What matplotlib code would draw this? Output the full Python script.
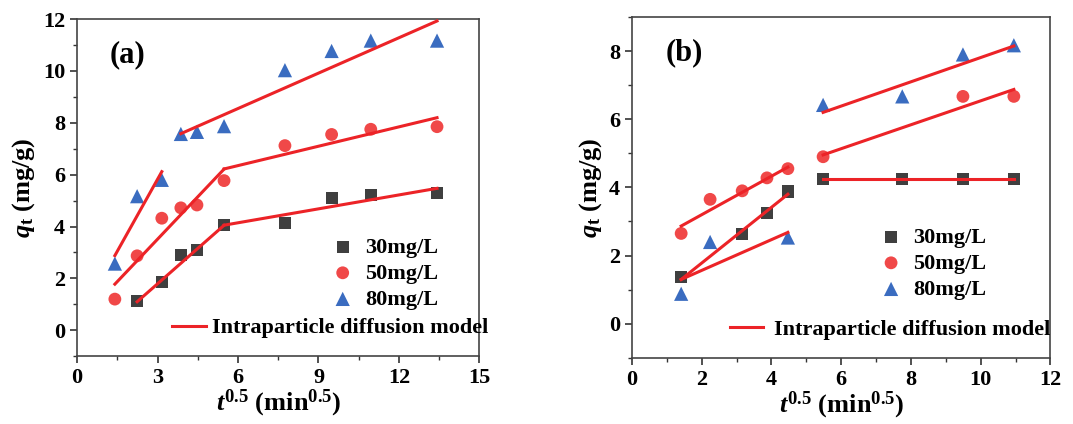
import matplotlib
matplotlib.use("Agg")
import matplotlib.pyplot as plt
import numpy as np
from matplotlib.lines import Line2D
from matplotlib.ticker import MultipleLocator

plt.rcParams['font.family'] = ['Liberation Serif', 'DejaVu Serif']
plt.rcParams['font.weight'] = 'bold'
plt.rcParams['mathtext.fontset'] = 'custom'
plt.rcParams['mathtext.rm'] = 'Liberation Serif:bold'
plt.rcParams['mathtext.it'] = 'Liberation Serif:italic:bold'
plt.rcParams['mathtext.bf'] = 'Liberation Serif:bold'

# ---- panel (a) data: t^0.5 vs q_t ----
xa = [1.41, 2.24, 3.16, 3.87, 4.47, 5.48, 7.75, 9.49, 10.95, 13.42]
a30_x = [2.24, 3.16, 3.87, 4.47, 5.48, 7.75, 9.49, 10.95, 13.42]
a30_y = [1.13, 1.87, 2.90, 3.10, 4.05, 4.15, 5.10, 5.20, 5.30]
a50_y = [1.20, 2.87, 4.32, 4.72, 4.83, 5.77, 7.12, 7.55, 7.75, 7.85]
a80_y = [2.57, 5.17, 5.80, 7.57, 7.65, 7.87, 10.03, 10.77, 11.17, 11.17]

# fitted segments (x start, x end, slope, intercept)
a30_fit = [(2.24, 5.48, 0.910, -0.94), (5.48, 13.42, 0.179, 3.07)]
a50_fit = [(1.41, 5.48, 1.090, 0.24), (5.48, 13.42, 0.249, 4.855)]
a80_fit = [(1.41, 3.16, 1.850, 0.27), (3.87, 13.42, 0.455, 5.82)]

# ---- panel (b) data ----
b30_x = [1.41, 3.16, 3.87, 4.47, 5.48, 7.75, 9.49, 10.95]
b30_y = [1.37, 2.63, 3.25, 3.88, 4.25, 4.25, 4.25, 4.25]
b50_x = [1.41, 2.24, 3.16, 3.87, 4.47, 5.48, 9.49, 10.95]
b50_y = [2.65, 3.65, 3.90, 4.28, 4.55, 4.90, 6.67, 6.67]
b80_x = [1.41, 2.24, 4.47, 5.48, 7.75, 9.49, 10.95]
b80_y = [0.88, 2.40, 2.53, 6.42, 6.67, 7.90, 8.17]

b30_fit = [(1.41, 4.47, 0.817, 0.148), (5.48, 10.95, 0.0, 4.25)]
b50_fit = [(1.41, 4.47, 0.565, 2.07), (5.48, 10.95, 0.351, 3.03)]
b80_fit = [(1.41, 4.47, 0.451, 0.664), (5.48, 10.95, 0.356, 4.25)]

c_sq = '#3f3f3f'
c_ci = '#f04848'
c_tr = '#3a6cc0'
c_fit = '#ec2327'


def draw_panel(ax, series, fits, label, xlim, ylim, xmaj, ymaj,
               leg_xy, line_x, line_pad):
    handles = []
    for (x, y, m, c, name, sz) in series:
        h = ax.scatter(x, y, marker=m, s=sz, color=c, edgecolors='none',
                       zorder=3, label=name)
        handles.append(h)
    for segs in fits:
        for x0, x1, k, b in segs:
            xs = np.array([x0, x1])
            ax.plot(xs, k * xs + b, color=c_fit, lw=2.2, zorder=4)

    ax.set_xlim(*xlim)
    ax.set_ylim(*ylim)
    ax.xaxis.set_major_locator(MultipleLocator(xmaj))
    ax.xaxis.set_minor_locator(MultipleLocator(xmaj / 2))
    ax.yaxis.set_major_locator(MultipleLocator(ymaj))
    ax.yaxis.set_minor_locator(MultipleLocator(ymaj / 2))
    ax.tick_params(which='major', direction='out', length=5, width=1.2,
                   labelsize=16, colors='#333333')
    ax.tick_params(which='minor', direction='out', length=3, width=1.0,
                   colors='#333333')
    for lab in ax.get_xticklabels() + ax.get_yticklabels():
        lab.set_fontweight('bold')
        lab.set_color('black')
    for sp in ax.spines.values():
        sp.set_linewidth(1.2)
        sp.set_color('#444444')

    ax.set_xlabel(r'$t^{0.5}$ (min$^{0.5}$)', fontsize=19, labelpad=0,
                  fontweight='bold')
    ax.set_ylabel(r'$q_{\rm t}$ (mg/g)', fontsize=19, labelpad=4,
                  fontweight='bold')
    ax.text(0.08, 0.895, label, transform=ax.transAxes, fontsize=22,
            fontweight='bold', va='center', ha='left')

    leg1 = ax.legend(handles=handles, loc='upper left',
                     bbox_to_anchor=leg_xy, frameon=False,
                     prop={'size': 16, 'weight': 'bold'}, handletextpad=0.4,
                     labelspacing=0.25, borderaxespad=0, handlelength=1.2)
    ax.add_artist(leg1)
    line_h = Line2D([], [], color=c_fit, lw=2.2)
    ax.legend(handles=[line_h], labels=['Intraparticle diffusion model'],
              loc='upper left', bbox_to_anchor=(line_x, 0.14), frameon=False,
              prop={'size': 16, 'weight': 'bold'}, handlelength=1.5,
              handletextpad=line_pad, borderaxespad=0)


fig = plt.figure(figsize=(10.73, 4.24), dpi=100)
ax1 = fig.add_axes([0.0718, 0.160, 0.375, 0.795])
ax2 = fig.add_axes([0.589, 0.156, 0.390, 0.804])

draw_panel(ax1,
           [(a30_x, a30_y, 's', c_sq, '30mg/L', 75),
            (xa, a50_y, 'o', c_ci, '50mg/L', 85),
            (xa, a80_y, '^', c_tr, '80mg/L', 105)],
           [a30_fit, a50_fit, a80_fit], '(a)', (0, 15), (-1, 12), 3, 2,
           (0.605, 0.38), 0.215, 0.3)

draw_panel(ax2,
           [(b30_x, b30_y, 's', c_sq, '30mg/L', 75),
            (b50_x, b50_y, 'o', c_ci, '50mg/L', 85),
            (b80_x, b80_y, '^', c_tr, '80mg/L', 105)],
           [b30_fit, b50_fit, b80_fit], '(b)', (0, 12), (-1, 9), 2, 2,
           (0.566, 0.41), 0.212, 0.5)

fig.savefig('out.png', dpi=100)
